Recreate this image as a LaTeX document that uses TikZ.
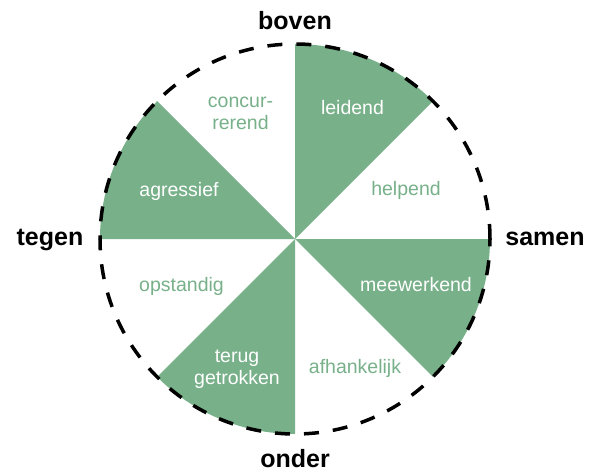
\documentclass[tikz,border=0pt]{standalone}
\usepackage{fontspec}
\setmainfont{Liberation Sans}
\usepackage{tikz}
\definecolor{roosgroen}{RGB}{119,176,137}
\tikzstyle{sector} = [fill=roosgroen, draw=none]
\tikzstyle{rand} = [black, line width=3.5pt, dash pattern=on 15pt off 14pt]
\tikzstyle{vol} = [text=white, font=\fontsize{19.5}{22}\selectfont, align=center, inner sep=0pt]
\tikzstyle{leeg} = [vol, text=roosgroen]
\tikzstyle{pool} = [font=\bfseries\fontsize{25}{30}\selectfont, inner sep=0pt]

\begin{document}
\begin{tikzpicture}[x=1pt, y=1pt]
        \useasboundingbox (-295,-232) rectangle (306,239);
        \coordinate (m) at (0,0);

        % gevulde vakken
        \fill [sector] (m) -- (90:195pt) arc (90:45:195pt) -- cycle;
        \fill [sector] (m) -- (0:195pt) arc (0:-45:195pt) -- cycle;
        \fill [sector] (m) -- (270:195pt) arc (270:225:195pt) -- cycle;
        \fill [sector] (m) -- (180:195pt) arc (180:135:195pt) -- cycle;
        \draw [rand] (m) circle (195pt);

        \node (leidend) [vol, anchor=base] at (57.5,124) {leidend};
        \node (helpend) [leeg, anchor=base] at (111,44) {helpend};
        \node (meewerkend) [vol, anchor=base] at (121,-52) {meewerkend};
        \node (afhankelijk) [leeg, anchor=base] at (60,-134) {afhankelijk};
        \node (terug) [vol] at (-58,-130.5) {terug\\getrokken};
        \node (opstandig) [leeg, anchor=base] at (-113.5,-52) {opstandig};
        \node (agressief) [vol, anchor=base] at (-116,43) {agressief};
        \node (concur) [leeg] at (-54.5,126) {concur-\\rerend};

        \node (boven) [pool, anchor=base] at (0,209) {boven};
        \node (onder) [pool, anchor=base] at (0,-228) {onder};
        \node (tegen) [pool, anchor=base] at (-245,-6) {tegen};
        \node (samen) [pool, anchor=base] at (250,-6) {samen};
    \end{tikzpicture}
\end{document}
